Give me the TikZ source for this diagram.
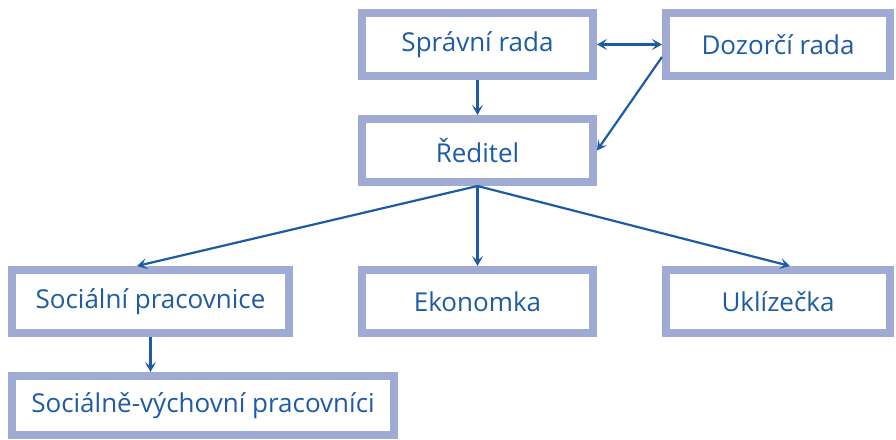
\documentclass[tikz,border=0pt]{standalone}
\usepackage{fontspec}
\setmainfont{Open Sans}
\usetikzlibrary{arrows.meta}
\definecolor{framecol}{HTML}{A0ABD4}
\definecolor{inkcol}{HTML}{1D5CA4}

\begin{document}
\begin{tikzpicture}[x=1pt, y=1pt,
    box/.style={draw=framecol, line width=8pt, fill=white, text=inkcol,
        inner sep=0pt, minimum height=63pt, font=\fontsize{26}{30}\selectfont},
    link/.style={draw=inkcol, line width=2.2pt,
        -{Stealth[length=10pt, width=11pt, inset=4.5pt]}}]
    \useasboundingbox (0, 0) rectangle (896, 439);

    \node[box, minimum width=231pt] (spravni) at (477.5, 394.5) {Správní rada};
    \node[box, minimum width=224pt] (dozorci) at (778, 394.5) {Dozorčí rada};
    \node[box, minimum width=231pt] (reditel) at (477.5, 288.5) {Ředitel};
    \node[box, minimum width=277pt] (socialni) at (150.5, 137.5) {Sociální pracovnice};
    \node[box, minimum width=231pt] (ekonomka) at (477.5, 137.5) {Ekonomka};
    \node[box, minimum width=224pt] (uklizecka) at (778, 137.5) {Uklízečka};
    \node[box, minimum width=382pt, minimum height=59pt] (vychovni) at (203, 33.5) {Sociálně-výchovní pracovníci};

    \draw[link, {Stealth[length=10pt, width=11pt, inset=4.5pt]}-{Stealth[length=10pt, width=11pt, inset=4.5pt]}] (spravni.east) -- (dozorci.west);
    \draw[link] (spravni) -- (reditel);
    \draw[link] ([yshift=-12.5pt]dozorci.west) -- (reditel.east);
    \draw[link] (reditel.south) -- ([xshift=-13.5pt]socialni.north);
    \draw[link] (reditel.south) -- (ekonomka.north);
    \draw[link] (reditel.south) -- ([xshift=12pt]uklizecka.north);
    \draw[link] (socialni.south) -- (socialni.south |- vychovni.north);
\end{tikzpicture}
\end{document}
